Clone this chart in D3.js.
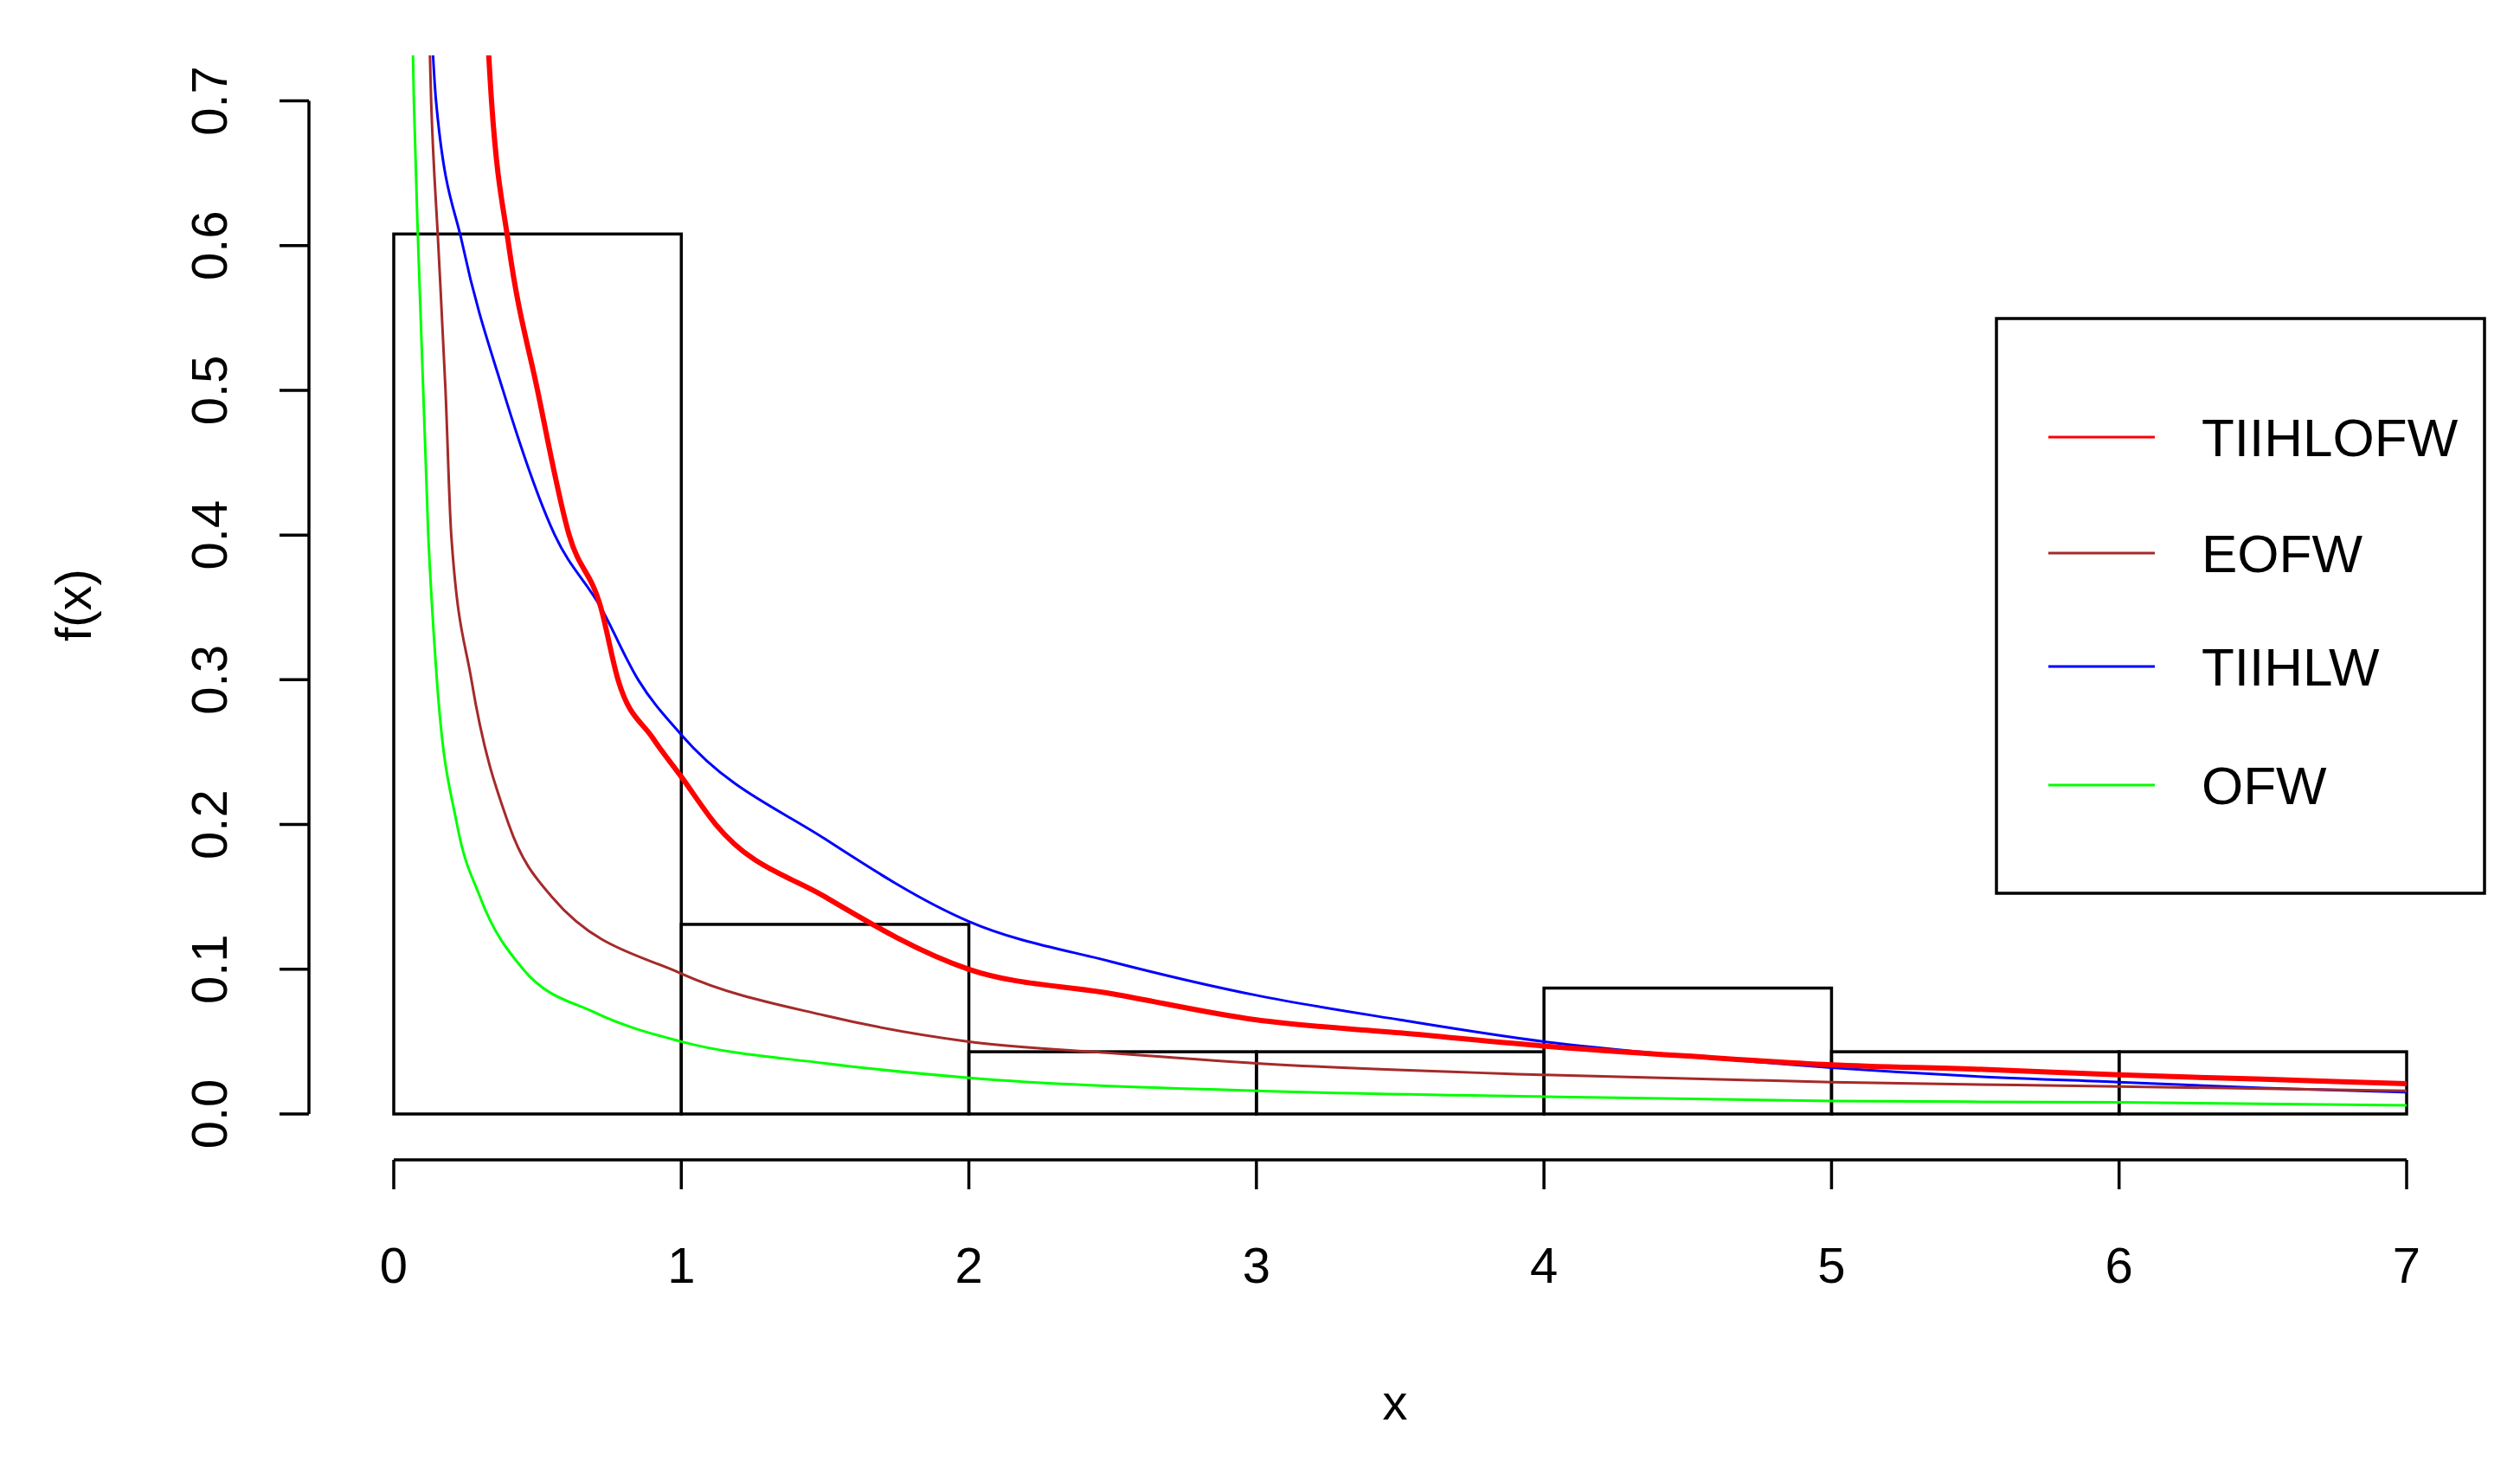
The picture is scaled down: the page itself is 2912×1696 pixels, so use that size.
<!DOCTYPE html>
<html>
<head>
<meta charset="utf-8">
<script src="https://cdn.jsdelivr.net/npm/d3@7"></script>
<style>
  body { margin: 0; background: white; }
  text { font-family: "Liberation Sans", Arial, sans-serif; fill: #000; }
</style>
</head>
<body>
<div id="graf"></div>
<script>
// Datos
const binEdges = [0, 1, 2, 3, 4, 5, 6, 7]
const binDensity = [0.608, 0.131, 0.043, 0.043, 0.087, 0.043, 0.043]

const xTicks = [0, 1, 2, 3, 4, 5, 6, 7]
const yTicks = [0, 0.1, 0.2, 0.3, 0.4, 0.5, 0.6, 0.7]

const redX = [0.30, 0.34, 0.40, 0.50, 0.61, 0.72, 0.78, 0.9, 1, 1.12, 1.5, 2, 2.5, 3, 3.5, 4, 4.5, 5, 5.5, 6, 6.5, 7]
const redY = [0.85, 0.7, 0.6, 0.5, 0.4, 0.35, 0.3, 0.26, 0.233, 0.2, 0.15, 0.10, 0.083, 0.065, 0.056, 0.047, 0.040, 0.034, 0.031, 0.027, 0.024, 0.021]

const blueX = [0.12, 0.147, 0.24, 0.38, 0.56, 0.72, 0.85, 1, 1.5, 2, 2.5, 3, 3.5, 4, 4.5, 5, 5.5, 6, 6.5, 7]
const blueY = [0.8, 0.7, 0.6, 0.5, 0.4, 0.35, 0.3, 0.262, 0.19, 0.133, 0.105, 0.082, 0.065, 0.05, 0.04, 0.032, 0.026, 0.022, 0.018, 0.015]

const brownX = [0.11, 0.13, 0.155, 0.18, 0.2, 0.27, 0.4, 0.55, 1, 1.5, 2, 2.5, 3, 4, 5, 6, 7]
const brownY = [0.85, 0.7, 0.6, 0.5, 0.4, 0.3, 0.2, 0.15, 0.097, 0.068, 0.05, 0.042, 0.035, 0.027, 0.022, 0.019, 0.016]

const greenX = [0.055, 0.07, 0.085, 0.12, 0.15, 0.22, 0.3, 0.45, 0.7, 1, 1.5, 2, 3, 4, 5, 6, 7]
const greenY = [0.85, 0.7, 0.6, 0.4, 0.3, 0.2, 0.15, 0.1, 0.07, 0.05, 0.035, 0.025, 0.016, 0.012, 0.009, 0.008, 0.006]

const series = [
  { name: "TIIHLOFW", color: "#ff0000", width: 6, xs: redX, ys: redY },
  { name: "EOFW", color: "#a52a2a", width: 3, xs: brownX, ys: brownY },
  { name: "TIIHLW", color: "#0000ff", width: 3, xs: blueX, ys: blueY },
  { name: "OFW", color: "#00ff00", width: 3, xs: greenX, ys: greenY },
]

// Dimensiones
const W = 2912, H = 1696
const svg = d3.select("#graf").append("svg").attr("width", W).attr("height", H)

const x = d3.scaleLinear().domain([0, 7]).range([455, 2781])
const y = d3.scaleLinear().domain([0, 0.7]).range([1287, 116.5])

svg.append("clipPath").attr("id", "clip")
  .append("rect").attr("x", 357).attr("y", 64).attr("width", 2480).attr("height", 1240)

// Histograma
svg.selectAll("rect.bar")
  .data(binDensity)
  .enter()
  .append("rect")
  .attr("class", "bar")
  .attr("x", (d, i) => x(binEdges[i]))
  .attr("y", (d) => y(d))
  .attr("width", (d, i) => x(binEdges[i + 1]) - x(binEdges[i]))
  .attr("height", (d) => y(0) - y(d))
  .attr("fill", "none")
  .attr("stroke", "#000")
  .attr("stroke-width", 3.5)

// Curvas
const line = d3.line().x((d) => x(d[0])).y((d) => y(d[1])).curve(d3.curveMonotoneX)
const curves = svg.append("g").attr("clip-path", "url(#clip)")
series.slice().reverse().forEach((s) => {
  curves.append("path")
    .datum(s.xs.map((v, i) => [v, s.ys[i]]))
    .attr("d", line)
    .attr("fill", "none")
    .attr("stroke", s.color)
    .attr("stroke-width", s.width)
})

// Ejes
const fs = 58
const yAxisX = 357
svg.append("line").attr("x1", yAxisX).attr("x2", yAxisX)
  .attr("y1", y(0)).attr("y2", y(0.7)).attr("stroke", "#000").attr("stroke-width", 3.5)
yTicks.forEach((t) => {
  svg.append("line").attr("x1", yAxisX).attr("x2", yAxisX - 34)
    .attr("y1", y(t)).attr("y2", y(t)).attr("stroke", "#000").attr("stroke-width", 3.5)
  svg.append("text")
    .attr("transform", `translate(262, ${y(t)}) rotate(-90)`)
    .attr("text-anchor", "middle")
    .attr("font-size", fs)
    .text(t.toFixed(1))
})

const xAxisY = 1340
svg.append("line").attr("x1", x(0)).attr("x2", x(7))
  .attr("y1", xAxisY).attr("y2", xAxisY).attr("stroke", "#000").attr("stroke-width", 3.5)
xTicks.forEach((t) => {
  svg.append("line").attr("x1", x(t)).attr("x2", x(t))
    .attr("y1", xAxisY).attr("y2", xAxisY + 34).attr("stroke", "#000").attr("stroke-width", 3.5)
  svg.append("text")
    .attr("x", x(t)).attr("y", 1482)
    .attr("text-anchor", "middle")
    .attr("font-size", fs)
    .text(t)
})

svg.append("text").attr("x", 1612).attr("y", 1640)
  .attr("text-anchor", "middle").attr("font-size", fs).text("x")
svg.append("text")
  .attr("transform", `translate(105, 699) rotate(-90)`)
  .attr("text-anchor", "middle").attr("font-size", fs).text("f(x)")

// Leyenda
svg.append("rect").attr("x", 2307).attr("y", 368).attr("width", 564).attr("height", 664)
  .attr("fill", "white").attr("stroke", "#000").attr("stroke-width", 3.5)
const rowsY = [505, 639, 770, 907]
series.forEach((s, i) => {
  svg.append("line").attr("x1", 2367).attr("x2", 2490)
    .attr("y1", rowsY[i]).attr("y2", rowsY[i])
    .attr("stroke", s.color).attr("stroke-width", 3)
  svg.append("text").attr("x", 2544).attr("y", rowsY[i] + 22)
    .attr("font-size", 62).text(s.name)
})
</script>
</body>
</html>
